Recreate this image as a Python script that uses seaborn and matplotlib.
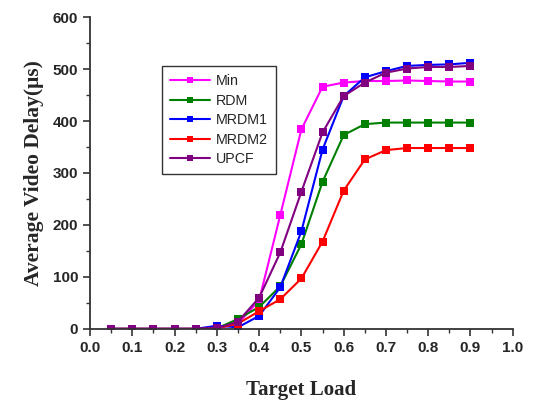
import numpy as np
import pandas as pd
import matplotlib
matplotlib.use("Agg")
import matplotlib.pyplot as plt
from matplotlib.ticker import MultipleLocator
import seaborn as sns

load = [0.05, 0.10, 0.15, 0.20, 0.25, 0.30, 0.35, 0.40, 0.45, 0.50, 0.55, 0.60, 0.65, 0.70, 0.75, 0.80, 0.85, 0.90]
min_vals   = [0, 0, 0, 0, 0, 2, 10, 55, 219, 384, 466, 474, 477, 477, 478, 477, 476, 476]
rdm_vals   = [0, 0, 0, 0, 0, 1, 19, 42, 82, 163, 283, 373, 394, 397, 397, 397, 397, 397]
mrdm1_vals = [0, 0, 0, 0, 0, 6, 3, 25, 80, 188, 345, 448, 484, 496, 506, 508, 509, 512]
mrdm2_vals = [0, 0, 0, 0, 0, 1, 10, 34, 57, 97, 168, 266, 326, 344, 348, 348, 348, 348]
upcf_vals  = [0, 0, 0, 0, 0, 1, 14, 60, 147, 264, 378, 448, 474, 493, 501, 504, 504, 506]

series = ["Min", "RDM", "MRDM1", "MRDM2", "UPCF"]
colors = ["#ff00ff", "#008000", "#0000ff", "#ff0000", "#800080"]
xtick_labels = ["0.0", "0.1", "0.2", "0.3", "0.4", "0.5", "0.6", "0.7", "0.8", "0.9", "1.0"]

df = pd.concat([
    pd.DataFrame({"load": load, "delay": v, "series": s})
    for s, v in zip(series, [min_vals, rdm_vals, mrdm1_vals, mrdm2_vals, upcf_vals])
])

sns.set_style("ticks")
fig = plt.figure(figsize=(5.33, 4.07), dpi=100)
ax = fig.add_axes([0.169, 0.192, 0.793, 0.766])

sns.lineplot(data=df, x="load", y="delay", hue="series", hue_order=series,
             palette=colors, marker="s", markersize=6, markeredgewidth=0,
             linewidth=1.5, ax=ax)

ax.set_xlim(0.0, 1.0)
ax.set_ylim(0, 600)
ax.set_xticks(np.linspace(0, 1, 11))
ax.set_xticklabels(xtick_labels)
ax.xaxis.set_minor_locator(MultipleLocator(0.05))
ax.yaxis.set_major_locator(MultipleLocator(100))
ax.yaxis.set_minor_locator(MultipleLocator(50))

for lab in ax.get_xticklabels() + ax.get_yticklabels():
    lab.set_fontfamily("Liberation Sans")
    lab.set_fontweight("bold")
    lab.set_fontsize(11)

ax.tick_params(which="major", direction="out", length=5, width=1.2, color="#333333")
ax.tick_params(which="minor", direction="out", length=3, width=1.0, color="#333333")
for sp in ["left", "bottom"]:
    ax.spines[sp].set_linewidth(1.3)
    ax.spines[sp].set_color("#333333")
sns.despine(ax=ax)

ax.set_xlabel("Target Load", fontfamily="Liberation Serif", fontweight="bold",
              fontsize=15, labelpad=18)
ax.set_ylabel("Average Video Delay(μs)", fontfamily="Liberation Serif",
              fontweight="bold", fontsize=15.5, labelpad=6)

leg = ax.legend(loc="upper left", bbox_to_anchor=(0.17, 0.842), borderaxespad=0,
                frameon=True, fancybox=False, edgecolor="black",
                handlelength=2.8, borderpad=0.55, labelspacing=0.38,
                handletextpad=0.45, prop={"family": "Liberation Sans", "size": 10.3})
leg.get_frame().set_linewidth(1.0)
for h in leg.legend_handles:
    h.set_markersize(4.5)

fig.savefig("out.png", dpi=100)
